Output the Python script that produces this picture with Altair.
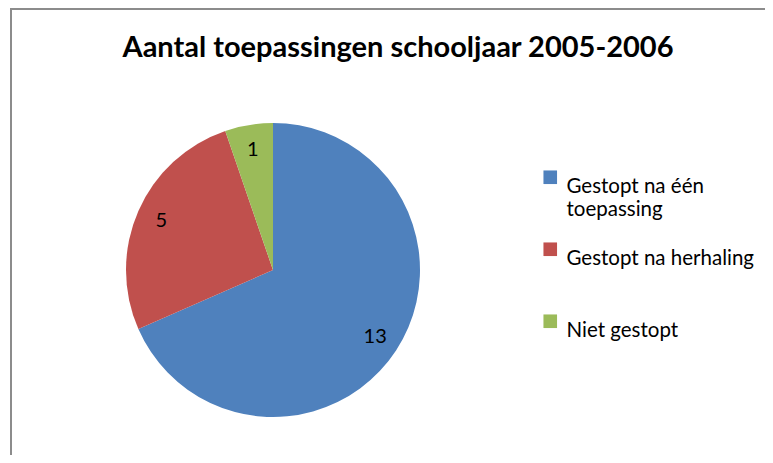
import altair as alt
import pandas as pd

categories = ["Gestopt na één toepassing", "Gestopt na herhaling", "Niet gestopt"]
values = [13, 5, 1]
order = [0, 1, 2]
colors = ["#4F81BD", "#C0504D", "#9BBB59"]

df = pd.DataFrame({"categorie": categories, "aantal": values, "volgorde": order})

FONT = "Lato"
R = 147

base = alt.Chart(df).encode(
    theta=alt.Theta("aantal:Q", stack=True),
    order=alt.Order("volgorde:Q"),
)

pie = base.mark_arc(outerRadius=R, strokeWidth=0).encode(
    color=alt.Color(
        "categorie:N",
        sort=categories,
        scale=alt.Scale(domain=categories, range=colors),
        legend=alt.Legend(
            title=None,
            orient="none",
            legendX=414,
            legendY=44,
            symbolType="square",
            symbolSize=185,
            symbolStrokeWidth=0,
            labelFont=FONT,
            labelFontSize=20.5,
            labelColor="#000000",
            labelLimit=300,
            labelExpr="datum.label == 'Gestopt na één toepassing' ? ['Gestopt na één', 'toepassing'] : datum.label",
            labelBaseline="top",
            labelOffset=6,
            gridAlign="all",
            rowPadding=18,
        ),
    )
)

labels = base.mark_text(radius=122, font=FONT, fontSize=20, color="#000000").encode(
    text=alt.Text("aantal:Q")
)

frame = alt.Chart(df).mark_rect(
    fill=None, stroke="#8C8C8C", strokeWidth=2
).encode(
    x=alt.value(-115), x2=alt.value(900), y=alt.value(-114), y2=alt.value(900)
)

chart = alt.layer(frame, pie, labels).properties(
    width=2 * R,
    height=2 * R,
    background="white",
    autosize=alt.AutoSizeParams(type="none"),
    padding={"left": 118, "top": 115, "right": 345, "bottom": 38},
    title=alt.Title(
        "Aantal toepassingen schooljaar 2005-2006",
        font=FONT,
        fontSize=29,
        fontWeight="bold",
        color="#000000",
        anchor="middle",
        frame="group",
        baseline="alphabetic",
        dx=125,
        offset=-78,
    ),
).configure_view(strokeWidth=0)

chart.save("out.html", embed_options={"renderer": "svg", "actions": False})
